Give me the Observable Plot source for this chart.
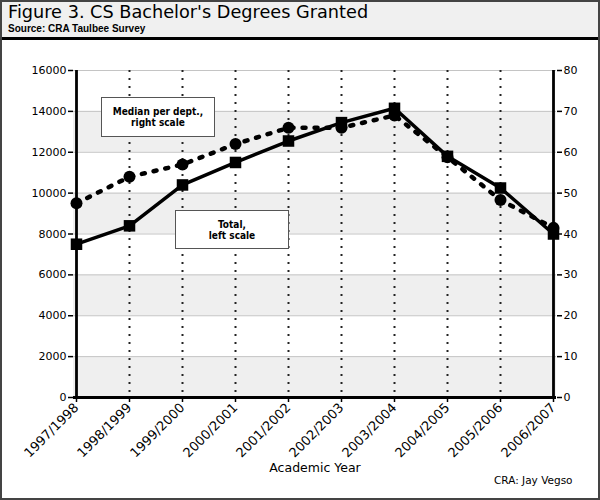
<!DOCTYPE html>
<html>
<head>
<meta charset="utf-8">
<script src="https://cdn.jsdelivr.net/npm/d3@7"></script>
<script src="https://cdn.jsdelivr.net/npm/@observablehq/plot@0.6"></script>
<style>
  html, body { margin: 0; padding: 0; background: #fff; }
  #fig { position: relative; width: 600px; height: 500px; overflow: hidden; font-family: "DejaVu Sans", Verdana, sans-serif; }
  #frame { position: absolute; left: 0; top: 0; width: 600px; height: 500px; box-sizing: border-box; border: 2px solid #444; pointer-events: none; z-index: 5; }
  #band { position: absolute; left: 0; top: 0; width: 600px; height: 37px; background: #f0f0f0; border-bottom: 3px solid #000; }
  #title { position: absolute; left: 8px; top: 2px; font-size: 17.7px; color: #000; white-space: nowrap; }
  #subtitle { position: absolute; left: 8px; top: 23px; font-family: "Liberation Sans", Arial, sans-serif; font-weight: bold; font-size: 10px; color: #000; white-space: nowrap; }
  #chart { position: absolute; left: 0; top: 40px; }
  .note { position: absolute; box-sizing: border-box; border: 1px solid #555; background: #fff; font-family: "DejaVu Sans Condensed", "DejaVu Sans", sans-serif; font-weight: bold; font-size: 10px; line-height: 11px; text-align: center; display: flex; align-items: center; justify-content: center; color: #000; z-index: 3; }
  #credit { position: absolute; left: 494px; top: 474px; font-size: 10.5px; color: #000; white-space: nowrap; }
</style>
</head>
<body>
<div id="fig">
  <div id="band">
    <div id="title">Figure 3. CS Bachelor's Degrees Granted</div>
    <div id="subtitle">Source: CRA Taulbee Survey</div>
  </div>
  <div id="chart"></div>
  <div class="note" style="left:101px; top:97px; width:114px; height:40px;">Median per dept.,<br>right scale</div>
  <div class="note" style="left:175px; top:210px; width:114px; height:39px;">Total,<br>left scale</div>
  <div id="credit">CRA: Jay Vegso</div>
  <div id="frame"></div>
</div>
<script>
const categories = ["1997/1998", "1998/1999", "1999/2000", "2000/2001", "2001/2002", "2002/2003", "2003/2004", "2004/2005", "2005/2006", "2006/2007"];
const totalDegrees = [7500, 8400, 10400, 11500, 12550, 13450, 14150, 11800, 10250, 8000];
const medianPerDept = [47.5, 54, 57, 62, 66, 66, 69, 58.8, 48.3, 41.5];
const leftTicks = [0, 2000, 4000, 6000, 8000, 10000, 12000, 14000, 16000];
const rightTicks = [0, 10, 20, 30, 40, 50, 60, 70, 80];
const shadedBands = [[0, 2000], [4000, 6000], [8000, 10000], [12000, 14000]];

const ratio = 16000 / 80; // left scale units per right scale unit
const rows = categories.map((year, i) => ({year, total: totalDegrees[i], median: medianPerDept[i]}));

const chart = Plot.plot({
  width: 600,
  height: 460,
  marginTop: 30,
  marginLeft: 73,
  marginRight: 44,
  marginBottom: 103,
  style: {fontFamily: "DejaVu Sans, Verdana, sans-serif", fontSize: "11px", color: "black", background: "transparent"},
  x: {type: "point", domain: categories, padding: 0},
  y: {domain: [0, 16000]},
  marks: [
    Plot.rect(shadedBands, {y1: d => d[0], y2: d => d[1], fill: "#efefef"}),
    Plot.ruleY(leftTicks, {stroke: "#c4c4c4", strokeWidth: 1}),
    Plot.ruleX(categories.slice(1, -1), {stroke: "#222", strokeWidth: 2, strokeDasharray: "2,6"}),
    Plot.axisY({ticks: leftTicks, tickSize: 5, tickPadding: 2, tickFormat: d3.format("d"), label: null, strokeWidth: 1.5}),
    Plot.axisY({anchor: "right", ticks: rightTicks.map(v => v * ratio), tickSize: 5, tickPadding: 2, tickFormat: d => String(d / ratio), label: null, strokeWidth: 1.5}),
    Plot.axisX({tickRotate: -45, tickSize: 5, tickPadding: 3, label: null, strokeWidth: 1.5, fontSize: 13}),
    Plot.ruleX([categories[0], categories[categories.length - 1]], {stroke: "black", strokeWidth: 2.8}),
    Plot.ruleY([0], {stroke: "black", strokeWidth: 2.8}),
    Plot.line(rows, {x: "year", y: d => d.median * ratio, stroke: "black", strokeWidth: 4.5, strokeDasharray: "3,9", strokeLinecap: "round"}),
    Plot.dot(rows, {x: "year", y: d => d.median * ratio, r: 6, fill: "black", stroke: "none"}),
    Plot.line(rows, {x: "year", y: "total", stroke: "black", strokeWidth: 3.5}),
    Plot.dot(rows, {x: "year", y: "total", symbol: "square", r: 6.5, fill: "black", stroke: "none"}),
    Plot.text(["Academic Year"], {frameAnchor: "bottom", lineAnchor: "middle", dy: 70, fontSize: 12.5, fill: "black"})
  ]
});
document.getElementById("chart").appendChild(chart);
</script>
</body>
</html>
